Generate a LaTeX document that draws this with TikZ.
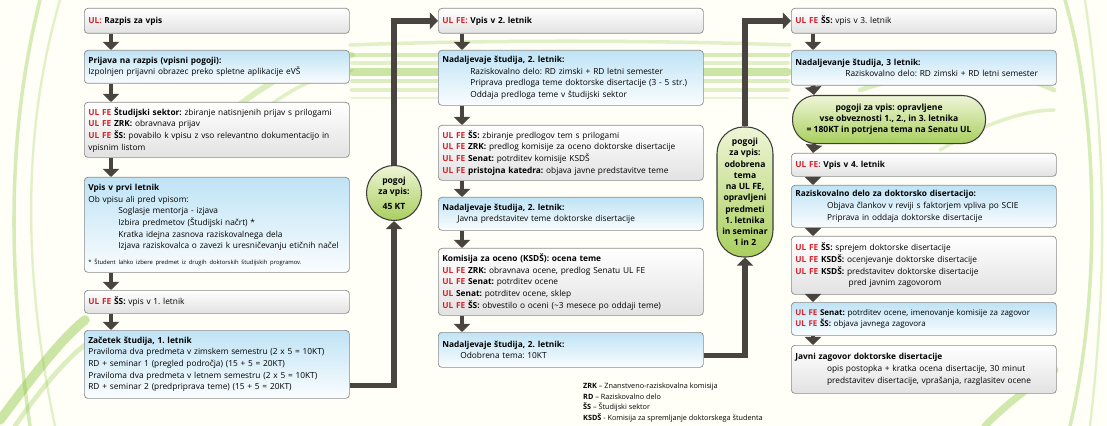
\documentclass[tikz,border=0pt]{standalone}
\usepackage{fontspec}
\setmainfont{Open Sans}
\usetikzlibrary{arrows.meta}

\definecolor{arrowc}{HTML}{4A4440}
\definecolor{boxline}{HTML}{8C8C8C}
\definecolor{graybot}{HTML}{E2E2E2}
\definecolor{bluetop}{HTML}{BFE3F5}
\definecolor{ulred}{HTML}{D4242B}
\definecolor{greentop}{HTML}{EEF5D6}
\definecolor{greenbot}{HTML}{A9CF5E}
\definecolor{condline}{HTML}{3C3C3C}
\definecolor{swoosh}{HTML}{8CC63F}

\newcommand{\ulfe}{\textcolor{ulred}{\textbf{UL FE}}}
\newcommand{\redtxt}[1]{\textcolor{ulred}{\textbf{#1}}}
\newcommand{\indt}[1]{\hspace*{#1}}
\frenchspacing

\tikzset{
  box/.style={draw=boxline, rounded corners=3pt, line width=0.6pt, anchor=north west,
    text width=7.71cm, inner xsep=0.12cm, inner ysep=2pt, align=left,
    font=\fontsize{7.1}{10}\selectfont},
  graybox/.style={box, top color=white, bottom color=graybot},
  bluebox/.style={box, top color=bluetop, bottom color=white!92!bluetop},
  cond/.style={draw=condline, line width=0.9pt, top color=greentop, bottom color=greenbot,
    align=center, inner sep=1pt, font=\bfseries\fontsize{7.3}{9.6}\selectfont},
  flowarrow/.style={draw=arrowc, line width=4.2pt, -{Triangle[width=14pt,length=7pt]}},
  link/.style={draw=arrowc, line width=4.6pt, line join=miter, -{Triangle[width=14pt,length=7pt]}}
}

\begin{document}
\begin{tikzpicture}[x=0.03cm, y=-0.03cm]
  \useasboundingbox (0,0) rectangle (1107,426);
  \fill[white!97!yellow] (0,0) rectangle (1107,426);

  % background swooshes
  \begin{scope}[draw=swoosh, line cap=round]
    \draw[line width=3pt, opacity=0.35] (40,0) .. controls (10,120) and (5,250) .. (30,426);
    \draw[line width=2pt, opacity=0.25] (60,0) .. controls (25,120) and (20,260) .. (55,426);
    \draw[line width=8pt, opacity=0.45] (0,420) .. controls (30,380) and (60,340) .. (85,320);
    \draw[line width=4pt, opacity=0.3] (15,426) .. controls (40,390) and (65,360) .. (85,345);
    \draw[line width=3pt, opacity=0.35] (1065,0) .. controls (1100,120) and (1100,300) .. (1070,426);
    \draw[line width=2pt, opacity=0.25] (1085,0) .. controls (1107,150) and (1107,280) .. (1090,426);
    \draw[line width=6pt, opacity=0.4] (985,426) .. controls (1010,400) and (1040,380) .. (1055,370);
    \draw[line width=3pt, opacity=0.25] (350,45) .. controls (480,40) and (650,40) .. (790,45);
    \foreach \yy/\ww/\oo in {55/4/0.35, 63/3/0.25, 72/6/0.45, 81/3/0.3, 90/4/0.25, 98/2/0.2}
      \draw[line width=\ww pt, opacity=\oo] (352,\yy) -- (788,\yy);
    \draw[line width=5pt, opacity=0.3] (200,140) .. controls (250,90) and (300,60) .. (352,55);
    \draw[line width=3pt, opacity=0.25] (230,140) .. controls (270,100) and (310,75) .. (352,70);
    \draw[line width=4pt, opacity=0.3] (860,90) .. controls (950,60) and (1010,70) .. (1054,90);
    \draw[line width=3pt, opacity=0.25] (940,150) .. controls (990,120) and (1030,110) .. (1054,110);
  \end{scope}

  % column 1
  \node[graybox, minimum height=0.75cm] (b1) at (84,8) {\redtxt{UL:} \textbf{Razpis za vpis}};
  \node[bluebox, minimum height=0.99cm] (b2) at (84,50) {\textbf{Prijava na razpis (vpisni pogoji):}\\
    Izpolnjen prijavni obrazec preko spletne aplikacije eVŠ};
  \node[graybox, minimum height=1.65cm] (b3) at (84,102) {\ulfe{} \textbf{Študijski sektor:} zbiranje natisnjenih prijav s prilogami\\
    \ulfe{} \textbf{ZRK:} obravnava prijav\\
    \ulfe{} \textbf{ŠS:} povabilo k vpisu z vso relevantno dokumentacijo in vpisnim listom};
  \node[bluebox, minimum height=2.85cm] (b4) at (84,177) {\textbf{Vpis v prvi letnik}\\
    Ob vpisu ali pred vpisom:\\
    \indt{0.9cm}Soglasje mentorja - izjava\\
    \indt{0.9cm}Izbira predmetov (Študijski načrt) *\\
    \indt{0.9cm}Kratka idejna zasnova raziskovalnega dela\\
    \indt{0.9cm}Izjava raziskovalca o zavezi k uresničevanju etičnih načel\\[3pt]
    {\fontsize{5}{7}\selectfont * Študent lahko izbere predmet iz drugih doktorskih študijskih programov.}};
  \node[graybox, minimum height=0.69cm] (b5) at (84,290) {\ulfe{} \textbf{ŠS:} vpis v 1. letnik};
  \node[bluebox, minimum height=2.04cm] (b6) at (84,330) {\textbf{Začetek študija, 1. letnik}\\
    Praviloma dva predmeta v zimskem semestru (2 x 5 = 10KT)\\
    RD + seminar 1 (pregled področja) (15 + 5 = 20KT)\\
    Praviloma dva predmeta v letnem semestru (2 x 5 = 10KT)\\
    RD + seminar 2 (predpriprava teme) (15 + 5 = 20KT)};

  % column 2
  \node[graybox, minimum height=0.75cm] (c1) at (438,8) {\redtxt{UL FE:} \textbf{Vpis v 2. letnik}};
  \node[bluebox, minimum height=1.65cm] (c2) at (438,50) {\textbf{Nadaljevaje študija, 2. letnik:}\\
    \indt{0.84cm}Raziskovalno delo: RD zimski + RD letni semester\\
    \indt{0.84cm}Priprava predloga teme doktorske disertacije (3 - 5 str.)\\
    \indt{0.84cm}Oddaja predloga teme v študijski sektor};
  \node[graybox, minimum height=1.65cm] (c3) at (438,125) {\ulfe{} \textbf{ŠS:} zbiranje predlogov tem s prilogami\\
    \ulfe{} \textbf{ZRK:} predlog komisije za oceno doktorske disertacije\\
    \ulfe{} \textbf{Senat:} potrditev komisije KSDŠ\\
    \ulfe{} \textbf{pristojna katedra:} objava javne predstavitve teme};
  \node[bluebox, minimum height=0.99cm] (c4) at (438,197) {\textbf{Nadaljevaje študija, 2. letnik:}\\
    \indt{0.45cm}Javna predstavitev teme doktorske disertacije};
  \node[graybox, minimum height=2.01cm] (c5) at (438,248) {\textbf{Komisija za oceno (KSDŠ): ocena teme}\\
    \ulfe{} \textbf{ZRK:} obravnava ocene, predlog Senatu UL FE\\
    \ulfe{} \textbf{Senat:} potrditev ocene\\
    \redtxt{UL} \textbf{Senat:} potrditev ocene, sklep\\
    \ulfe{} \textbf{ŠS:} obvestilo o oceni (\textasciitilde 3 mesece po oddaji teme)};
  \node[bluebox, minimum height=1.05cm] (c6) at (438,332) {\textbf{Nadaljevaje študija, 2. letnik:}\\
    \indt{0.54cm}Odobrena tema: 10KT};

  % column 3
  \node[graybox, minimum height=0.75cm] (d1) at (791,8) {\ulfe{} \textbf{ŠS:} vpis v 3. letnik};
  \node[bluebox, minimum height=1.05cm] (d2) at (791,50) {\textbf{Nadaljevanje študija, 3 letnik:}\\
    \indt{1.5cm}Raziskovalno delo: RD zimski + RD letni semester};
  \node[cond, anchor=north west, minimum width=5.79cm, minimum height=1.44cm, rounded corners=0.7cm] (d3) at (792,95)
    {pogoji za vpis: opravljene\\ vse obveznosti 1., 2., in 3. letnika\\ = 180KT in potrjena tema na Senatu UL};
  \node[graybox, minimum height=0.69cm] (d4) at (791,153) {\redtxt{UL FE:} \textbf{Vpis v 4. letnik}};
  \node[bluebox, minimum height=1.26cm] (d5) at (791,185) {\textbf{Raziskovalno delo za doktorsko disertacijo:}\\
    \indt{0.95cm}Objava člankov v reviji s faktorjem vpliva po SCIE\\
    \indt{0.95cm}Priprava in oddaja doktorske disertacije};
  \node[graybox, minimum height=1.74cm] (d6) at (791,236) {\ulfe{} \textbf{ŠS:} sprejem doktorske disertacije\\
    \ulfe{} \textbf{KSDŠ:} ocenjevanje doktorske disertacije\\
    \ulfe{} \textbf{KSDŠ:} predstavitev doktorske disertacije\\
    \indt{1.6cm}pred javnim zagovorom};
  \node[bluebox, minimum height=0.99cm, font=\fontsize{6.8}{10}\selectfont] (d7) at (791,302) {\ulfe{} \textbf{Senat:} potrditev ocene, imenovanje komisije za zagovor\\
    \ulfe{} \textbf{ŠS:} objava javnega zagovora};
  \node[graybox, minimum height=1.44cm] (d8) at (791,345) {\textbf{Javni zagovor doktorske disertacije}\\
    \indt{0.95cm}opis postopka + kratka ocena disertacije, 30 minut\\
    \indt{0.95cm}predstavitev disertacije, vprašanja, razglasitev ocene};

  % conditions
  \node[cond, circle, minimum size=1.65cm] (c45) at (394,193) {pogoj\\ za vpis:\\[3pt] 45 KT};
  \node[cond, minimum width=1.68cm, minimum height=3.9cm, rounded corners=0.8cm] (p2) at (745,192)
    {pogoji\\ za vpis:\\ odobrena\\ tema\\ na UL FE,\\ opravljeni\\ predmeti\\ 1. letnika\\ in seminar\\ 1 in 2};

  % legend
  \node[anchor=north west, align=left, inner sep=0pt, font=\fontsize{6.2}{8.9}\selectfont] (legend) at (583,383)
    {\textbf{ZRK} – Znanstveno-raziskovalna komisija\\
     \textbf{RD} – Raziskovalno delo\\
     \textbf{ŠS} – Študijski sektor\\
     \textbf{KSDŠ} - Komisija za spremljanje doktorskega študenta};

  % arrows
  \foreach \a/\b in {b1/b2, b2/b3, b3/b4, b4/b5, b5/b6}
    \draw[flowarrow] ([xshift=0.81cm]\a.south west) -- ([xshift=0.81cm]\b.north west);
  \foreach \a/\b in {c1/c2, c2/c3, c3/c4, c4/c5, c5/c6}
    \draw[flowarrow] ([xshift=0.72cm]\a.south west) -- ([xshift=0.72cm]\b.north west);
  \foreach \a/\b in {d1/d2, d2/d3, d3/d4, d4/d5, d5/d6, d6/d7, d7/d8}
    \draw[flowarrow] ([xshift=0.66cm]\a.south west) -- ([xshift=0.66cm]\b.north west);

  \draw[link] ([yshift=-0.63cm]b6.east) -| (c45.south);
  \draw[link] (c45.north) |- (c1.west);
  \draw[link] ([yshift=-0.17cm]c6.east) -| (p2.south);
  \draw[link] (p2.north) |- (d1.west);
\end{tikzpicture}
\end{document}
